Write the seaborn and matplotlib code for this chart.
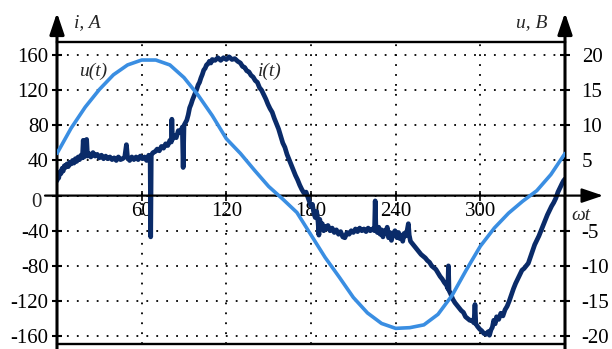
import pandas as pd
import matplotlib.pyplot as plt
import seaborn as sns

# voltage u(t), V, read every 10 degrees
angle_u = list(range(0, 361, 10))
u_volts = [6.0, 9.6, 12.6, 15.1, 17.2, 18.6, 19.3, 19.3, 18.6, 16.8,
           14.3, 11.4, 8.1, 6.0, 3.6, 1.3, -0.5, -2.4, -5.6, -8.8,
           -11.6, -14.5, -16.7, -18.2, -18.9, -18.8, -18.4, -16.9, -14.2, -10.6,
           -7.2, -4.6, -2.5, -0.8, 0.7, 3.0, 6.0]

# current i(t), A
angle_i = [0.0, 0.6, 1.2, 2.0, 2.8, 3.6, 4.4, 5.2, 6.0, 7.0, 8.0, 9.0, 10.0, 11.0, 12.0,
           13.0, 14.0, 15.0, 16.0, 17.0, 18.0, 18.6, 19.2, 20.2, 21.0, 21.6, 22.6, 24.0,
           25.5, 27.0, 28.5, 30.0, 31.5, 33.0, 34.5, 36.0, 37.5, 39.0, 40.5, 42.0, 43.5,
           45.0, 46.5, 48.0, 49.2, 50.0, 51.5, 53.0, 54.5, 56.0, 57.5, 59.0, 60.5, 62.0,
           63.5, 65.0, 66.0, 66.4, 66.8, 68.0, 69.5, 71.0, 72.5, 74.0, 75.5, 77.0, 78.5,
           80.0, 81.0, 81.4, 81.8, 83.0, 84.5, 86.0, 87.5, 88.8, 89.4, 90.0, 91.0, 92.0,
           93.0, 94.0, 95.0, 96.0, 97.0, 98.0, 99.0, 100.0, 101.0, 102.0, 103.0, 104.0,
           105.0, 106.0, 107.0, 108.0, 109.0, 110.0, 112.0, 114.0, 116.0, 118.0, 120.0,
           122.0, 124.0, 126.0, 128.0, 130.0, 131.5, 133.0, 134.5, 136.0, 137.5, 139.0,
           140.5, 142.0, 143.5, 145.0, 146.5, 148.0, 149.5, 151.0, 152.5, 154.0, 155.5,
           157.0, 158.5, 160.0, 161.5, 163.0, 164.5, 166.0, 167.5, 169.0, 170.5, 172.0,
           173.5, 175.0, 176.5, 178.0, 179.0, 180.0, 181.0, 182.0, 183.0, 184.0, 185.0,
           185.6, 186.2, 187.0, 188.0, 189.0, 190.0, 191.0, 192.0, 193.5, 195.0, 196.5,
           198.0, 199.5, 201.0, 202.5, 204.0, 205.5, 207.0, 208.5, 210.0, 211.5, 213.0,
           214.5, 216.0, 217.5, 219.0, 220.5, 222.0, 223.5, 225.0, 225.5, 226.0, 227.0,
           228.0, 229.0, 230.0, 231.0, 232.0, 233.0, 234.0, 235.0, 236.0, 237.0, 238.0,
           239.5, 241.0, 242.0, 243.0, 244.0, 245.0, 246.0, 247.0, 248.0, 249.0, 249.6,
           250.5, 252.0, 253.5, 255.0, 256.5, 258.0, 259.5, 261.0, 262.5, 264.0, 265.5,
           267.0, 268.5, 270.0, 271.5, 273.0, 274.5, 276.0, 277.0, 277.4, 277.8, 279.0,
           280.5, 282.0, 283.5, 285.0, 286.5, 288.0, 289.5, 291.0, 292.5, 294.0, 295.5,
           296.2, 296.8, 298.0, 299.5, 301.0, 302.5, 304.0, 305.5, 306.5, 307.5, 308.5,
           309.5, 310.5, 311.5, 313.0, 314.5, 316.0, 317.5, 319.0, 320.5, 322.0, 323.5,
           325.0, 326.5, 328.0, 329.5, 331.0, 332.5, 334.0, 335.5, 337.0, 338.5, 340.0,
           341.5, 343.0, 344.5, 346.0, 347.5, 349.0, 350.5, 352.0, 353.5, 355.0, 356.5,
           358.0, 359.0, 360.0]
i_amps = [17, 24, 20, 27, 25, 31, 28, 34, 32, 36, 33, 38, 36, 40, 37,
          42, 39, 44, 41, 46, 43, 63, 44, 47, 64, 45, 48, 44,
          49, 45, 47, 43, 46, 42, 45, 42, 44, 41, 43, 40, 44,
          41, 42, 44, 58, 43, 40, 44, 41, 44, 41, 45, 42, 44,
          40, 46, 44, -47, 46, 49, 50, 53, 51, 56, 54, 59, 57,
          63, 61, 87, 64, 68, 66, 74, 72, 78, 32, 80, 83, 86,
          92, 100, 104, 109, 113, 117, 121, 126, 129, 134, 138, 143,
          145, 149, 150, 153, 151, 155, 154, 157, 154, 157, 155,
          158, 155, 156, 153, 151, 147, 146, 142, 141, 137, 135,
          131, 129, 123, 120, 115, 110, 104, 99, 95, 88, 82,
          76, 68, 60, 55, 47, 41, 35, 29, 23, 18, 12,
          7, 3, 4, -3, -8, -12, -10, -20, -25, -18, -30,
          -45, -27, -36, -32, -40, -35, -38, -34, -40, -37, -42,
          -39, -44, -41, -47, -48, -42, -44, -40, -42, -38, -41,
          -37, -40, -38, -41, -37, -40, -38, -40, -6, -38, -42,
          -36, -44, -39, -47, -40, -43, -36, -48, -42, -51, -44,
          -40, -48, -42, -49, -45, -52, -43, -46, -41, -32, -45,
          -52, -55, -58, -61, -64, -67, -69, -71, -74, -76, -80,
          -82, -84, -88, -92, -95, -99, -102, -106, -80, -108, -112,
          -118, -122, -125, -128, -131, -133, -138, -140, -142, -142, -145,
          -124, -146, -149, -152, -154, -157, -158, -155, -159, -153, -150,
          -142, -146, -138, -141, -134, -137, -130, -126, -120, -113, -106,
          -100, -95, -90, -85, -83, -80, -77, -70, -63, -56, -51,
          -46, -40, -34, -28, -22, -17, -12, -8, -3, 4, 9,
          14, 17, 19]

i_ticks = [-160, -120, -80, -40, 0, 40, 80, 120, 160]
i_labels = ['-160', '-120', '-80', '-40', '', '40', '80', '120', '160']
u_ticks = [-20, -15, -10, -5, 5, 10, 15, 20]
x_ticks = [60, 120, 180, 240, 300]

current = pd.DataFrame({'wt': angle_i, 'i': i_amps})
voltage = pd.DataFrame({'wt': angle_u, 'u': u_volts})

sns.set_style("white")
plt.rcParams['font.family'] = ['Liberation Serif', 'DejaVu Serif']

dark = '#0a2b69'
light = '#3a8ee2'

fig = plt.figure(figsize=(6.12, 3.49), dpi=100)
ax = fig.add_axes([57 / 612, 5 / 349, 508 / 612, 302.5 / 349])
ax2 = ax.twinx()

sns.lineplot(data=current, x='wt', y='i', ax=ax, color=dark, lw=3.4,
             estimator=None, sort=False)
sns.lineplot(data=voltage, x='wt', y='u', ax=ax2, color=light, lw=2.6,
             estimator=None, sort=False)

ax.set_xlim(0, 360)
ax.set_ylim(-169, 175.5)
ax2.set_ylim(-169 / 8, 175.5 / 8)
for a in (ax, ax2):
    a.set_xlabel('')
    a.set_ylabel('')
    for s in a.spines.values():
        s.set_visible(False)

ax.spines['top'].set_visible(True)
ax.spines['top'].set_linewidth(1.7)
ax.spines['top'].set_color('k')
ax.spines['bottom'].set_position(('data', 0))
ax.axhline(-169, color='k', lw=1.7, clip_on=False)

ax.set_xticks(x_ticks)
ax.set_xticklabels([str(t) for t in x_ticks])
ax.set_yticks(i_ticks)
ax.set_yticklabels(i_labels)
ax2.set_yticks(u_ticks)
ax2.set_yticklabels([str(t) for t in u_ticks])

ax.tick_params(axis='x', bottom=True, direction='inout', length=6.5, width=1.2,
               pad=1, labelsize=15, colors='k')
ax.tick_params(axis='y', left=True, direction='inout', length=7, width=1.5,
               pad=2.6, labelsize=15, colors='k')
ax2.tick_params(axis='y', right=True, direction='inout', length=7, width=1.5,
                pad=8.5, labelsize=15, colors='k')

ax.grid(True, color='k', linestyle=(0, (1, 4.5)), linewidth=1.3)
ax2.grid(False)

arrow = dict(arrowstyle='-|>,head_length=0.65,head_width=0.22', color='k',
             shrinkA=0, shrinkB=0, mutation_scale=20)
ax.annotate('', xy=(0, 1.095), xytext=(0, -0.0165), xycoords='axes fraction',
            arrowprops=dict(arrow, lw=2.2))
ax.annotate('', xy=(1, 1.095), xytext=(1, -0.0165), xycoords='axes fraction',
            arrowprops=dict(arrow, lw=2.2))
ax.annotate('', xy=(1.075, 0), xytext=(-0.0236, 0),
            xycoords=('axes fraction', 'data'), arrowprops=dict(arrow, lw=1.6))

ax.text(25.5, 141, 'u(t)', style='italic', fontsize=14, ha='center', va='center')
ax.text(151, 142, 'i(t)', style='italic', fontsize=14, ha='center', va='center')
fig.text(87 / 612, 1 - 23 / 349, 'i, A', style='italic', fontsize=14,
         ha='center', va='center')
fig.text(532 / 612, 1 - 23 / 349, 'u, B', style='italic', fontsize=14,
         ha='center', va='center')
fig.text(581 / 612, 1 - 215 / 349, 'ωt', style='italic', fontsize=14,
         ha='center', va='center')
fig.text(36 / 612, 1 - 202.5 / 349, '0', fontsize=15, ha='center', va='center')

fig.savefig('out.png', dpi=100)
